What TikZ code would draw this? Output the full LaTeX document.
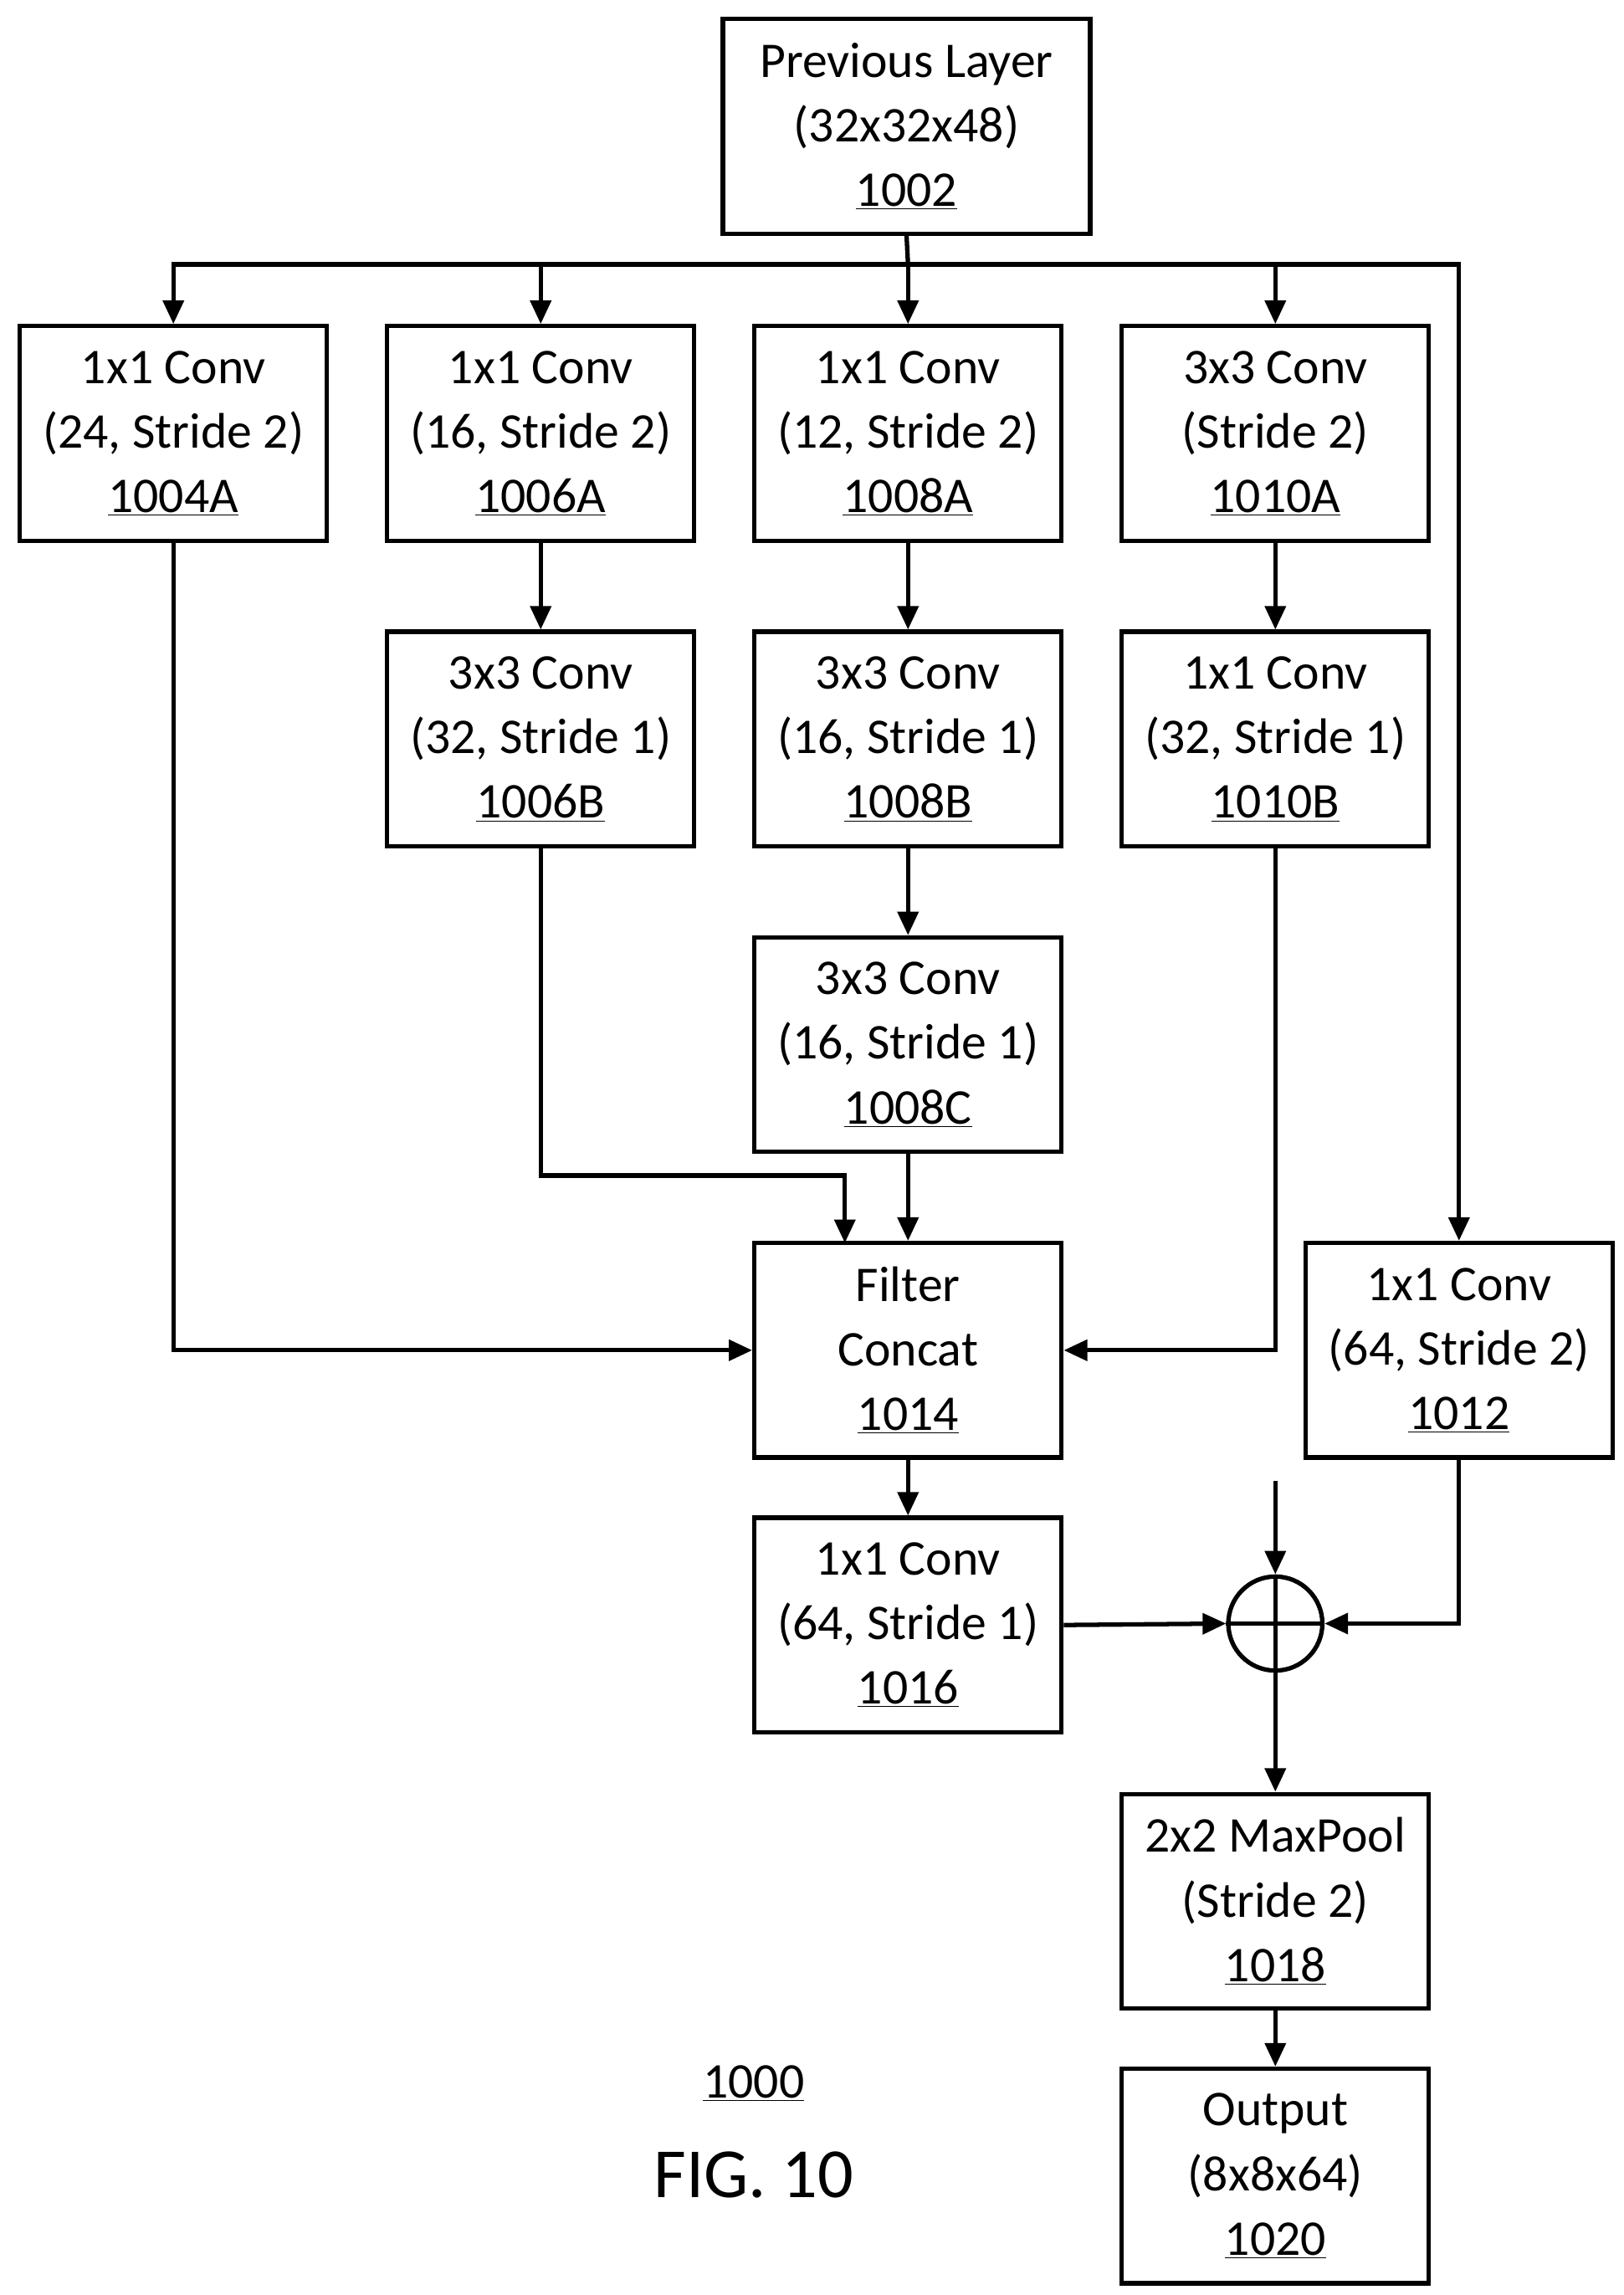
\documentclass[tikz,border=0pt]{standalone}
\usepackage{fontspec}
\setmainfont{Carlito}
\usetikzlibrary{arrows.meta}
\begin{document}
\begin{tikzpicture}[x=1pt,y=-1pt,line width=3pt,
  blk/.style={draw,minimum width=209pt,minimum height=146pt,align=center,
    font=\fontsize{34}{44}\selectfont,inner sep=0pt},
  arr/.style={-{Triangle[length=16pt,width=14pt]}}]
\useasboundingbox (0,0) rectangle (1105,1562);
% Boxes
\node[blk,minimum width=250pt] (prev) at (617,86) {Previous Layer\\(32x32x48)\\\underline{1002}};
\node[blk] (c4a) at (118,295) {1x1 Conv\\(24, Stride 2)\\\underline{1004A}};
\node[blk] (c6a) at (368,295) {1x1 Conv\\(16, Stride 2)\\\underline{1006A}};
\node[blk] (c8a) at (618,295) {1x1 Conv\\(12, Stride 2)\\\underline{1008A}};
\node[blk] (c10a) at (868,295) {3x3 Conv\\(Stride 2)\\\underline{1010A}};
\node[blk] (c6b) at (368,503) {3x3 Conv\\(32, Stride 1)\\\underline{1006B}};
\node[blk] (c8b) at (618,503) {3x3 Conv\\(16, Stride 1)\\\underline{1008B}};
\node[blk] (c10b) at (868,503) {1x1 Conv\\(32, Stride 1)\\\underline{1010B}};
\node[blk] (c8c) at (618,711) {3x3 Conv\\(16, Stride 1)\\\underline{1008C}};
\node[blk] (cat) at (618,919) {Filter\\Concat\\\underline{1014}};
\node[blk] (c12) at (993,919) {1x1 Conv\\(64, Stride 2)\\\underline{1012}};
\node[blk] (c16) at (618,1106) {1x1 Conv\\(64, Stride 1)\\\underline{1016}};
\node[draw,circle,minimum size=64pt,inner sep=0pt] (sum) at (868,1105) {};
\draw (sum.north) -- (sum.south) (sum.west) -- (sum.east);
\node[blk] (pool) at (868,1294) {2x2 MaxPool\\(Stride 2)\\\underline{1018}};
\node[blk] (out) at (868,1481) {Output\\(8x8x64)\\\underline{1020}};
\node[font=\fontsize{34}{44}\selectfont] (ref) at (513,1418) {\underline{1000}};
\node[font=\fontsize{48}{56}\selectfont] (fig) at (513,1480) {FIG. 10};

% Distribution
\coordinate (split) at (618,180);
\coordinate (sky) at (868,1008);
\draw (prev.south) -- (split);
\draw[arr] (split) -| (c4a.north);
\draw[arr] (split) -| (c6a.north);
\draw[arr] (split) -- (c8a.north);
\draw[arr] (split) -| (c10a.north);
\draw[arr] (split) -| (c12.north);
% Branches
\draw[arr] (c6a) -- (c6b);
\draw[arr] (c8a) -- (c8b);
\draw[arr] (c10a) -- (c10b);
\draw[arr] (c8b) -- (c8c);
\draw[arr] (c8c) -- (cat);
\draw[arr] (c4a.south) |- (cat.west);
\draw[arr] (c10b.south) |- (cat.east);
\draw[arr] (c6b.south) |- (575,800) -- (575,846);
% Merge
\draw[arr] (cat) -- (c16);
\draw[arr] (c16.east) -- (sum.west);
\draw[arr] (c12.south) |- (sum.east);
\draw[arr] (sky) -- (sum.north);
\draw[arr] (sum.south) -- (pool.north);
\draw[arr] (pool) -- (out);
\end{tikzpicture}
\end{document}
